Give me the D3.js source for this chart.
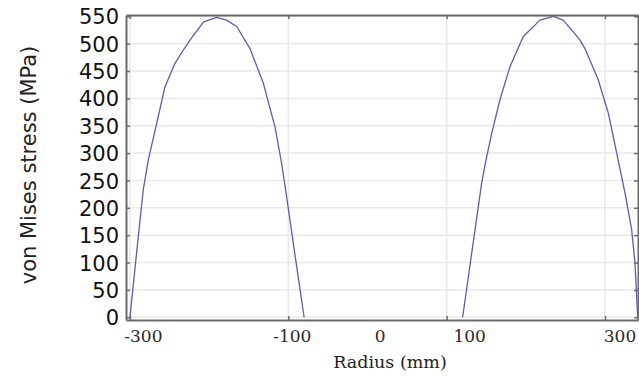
<!DOCTYPE html>
<html>
<head>
<meta charset="utf-8">
<script src="https://cdn.jsdelivr.net/npm/d3@7"></script>
<style>
  html, body { margin: 0; padding: 0; background: #fff; }
  .axis path.domain { stroke: #6b6b6b; stroke-width: 2; }
  .axis line { stroke: #6b6b6b; stroke-width: 1.5; }
  .grid line { stroke: #e9e9e9; stroke-width: 1.5; }
</style>
</head>
<body>
<svg class="chart"></svg>
<script>
// left stress peak
const leftRadius = [-300, -289.5, -283.2, -276.9, -266.3, -255.8, -243.2, -232.7, -224, -207, -190.5, -177.8, -165, -148.4, -131.6, -116.8, -108.4, -102.1, -93.7, -80];
const leftStress = [0, 147, 233, 287, 354, 421, 464, 488, 507, 540, 548, 543, 531, 491, 428, 348, 281, 220, 135, 0];

// right stress peak
const rightRadius = [120.2, 144.2, 149.7, 156.9, 167.4, 180, 196.8, 217.9, 234.7, 247.3, 268.3, 274.7, 291.5, 304.2, 314.8, 325.3, 333.7, 337.9, 341.3];
const rightStress = [0, 245, 287, 336, 398, 458, 513, 543, 550, 543, 507, 491, 434, 373, 300, 227, 160, 99, 0];

const xTicks = [-300, -100, 100, 300];
const xLabels = ['-300', '-100', '0', '100', '300'];
const xLabelPos = [-283, -95, 16, 129, 319];
const yTicks = [0, 50, 100, 150, 200, 250, 300, 350, 400, 450, 500, 550];

const width = 639;
const height = 376;
const plot = {left: 126, right: 638, top: 15, bottom: 320};

const svg = d3.select('.chart')
  .attr('width', width)
  .attr('height', height);

const x = d3.scaleLinear().domain([-305, 341.7]).range([plot.left, plot.right]);
const y = d3.scaleLinear().domain([-5, 552.4]).range([plot.bottom, plot.top]);

// grid
svg.append('g')
  .attr('class', 'grid')
  .selectAll('line.v')
  .data(xTicks)
  .enter().append('line')
  .attr('x1', d => x(d)).attr('x2', d => x(d))
  .attr('y1', plot.top).attr('y2', plot.bottom);

svg.append('g')
  .attr('class', 'grid')
  .selectAll('line.h')
  .data(yTicks)
  .enter().append('line')
  .attr('x1', plot.left).attr('x2', plot.right)
  .attr('y1', d => y(d)).attr('y2', d => y(d));

// curves (piecewise linear, like the solver output)
const line = d3.line()
  .x(d => x(d[0]))
  .y(d => y(d[1]));

const series = [
  d3.zip(leftRadius, leftStress),
  d3.zip(rightRadius, rightStress)
];

svg.append('g')
  .selectAll('path')
  .data(series)
  .enter().append('path')
  .attr('d', line)
  .attr('fill', 'none')
  .attr('stroke', '#5a5db4')
  .attr('stroke-width', 1.3)
  .attr('stroke-linejoin', 'round');

// axes
svg.append('g')
  .attr('class', 'axis')
  .attr('transform', 'translate(0,' + plot.bottom + ')')
  .call(d3.axisBottom(x).tickValues(xTicks).tickSizeInner(-4).tickSizeOuter(0).tickFormat(''));

svg.append('g')
  .attr('class', 'axis')
  .attr('transform', 'translate(0,' + plot.top + ')')
  .call(d3.axisTop(x).tickValues(xTicks).tickSizeInner(-4).tickSizeOuter(0).tickFormat(''));

svg.append('g')
  .attr('class', 'axis')
  .attr('transform', 'translate(' + plot.right + ',0)')
  .call(d3.axisRight(y).tickValues(yTicks).tickSizeInner(-4).tickSizeOuter(0).tickFormat(''));

const yAxis = svg.append('g')
  .attr('class', 'axis')
  .attr('transform', 'translate(' + plot.left + ',0)')
  .call(d3.axisLeft(y).tickValues(yTicks).tickSizeInner(-4).tickSizeOuter(0).tickPadding(7));

yAxis.selectAll('text')
  .style('font-family', '"DejaVu Sans", Verdana, sans-serif')
  .style('font-size', '21px')
  .style('fill', '#111')
  .attr('dy', '0.36em');

// x tick labels
svg.append('g')
  .selectAll('text')
  .data(xLabels)
  .enter().append('text')
  .attr('x', (d, i) => x(xLabelPos[i]))
  .attr('y', 342)
  .attr('text-anchor', 'middle')
  .style('font-family', '"DejaVu Serif", serif')
  .style('font-size', '17px')
  .style('fill', '#2a2a2a')
  .text(d => d);

// axis titles
svg.append('text')
  .attr('x', 390)
  .attr('y', 368)
  .attr('text-anchor', 'middle')
  .style('font-family', '"DejaVu Serif", serif')
  .style('font-size', '17.5px')
  .style('fill', '#222')
  .text('Radius (mm)');

svg.append('text')
  .attr('transform', 'translate(36,165) rotate(-90)')
  .attr('text-anchor', 'middle')
  .style('font-family', '"DejaVu Sans", Verdana, sans-serif')
  .style('font-size', '21px')
  .style('fill', '#222')
  .text('von Mises stress (MPa)');
</script>
</body>
</html>
